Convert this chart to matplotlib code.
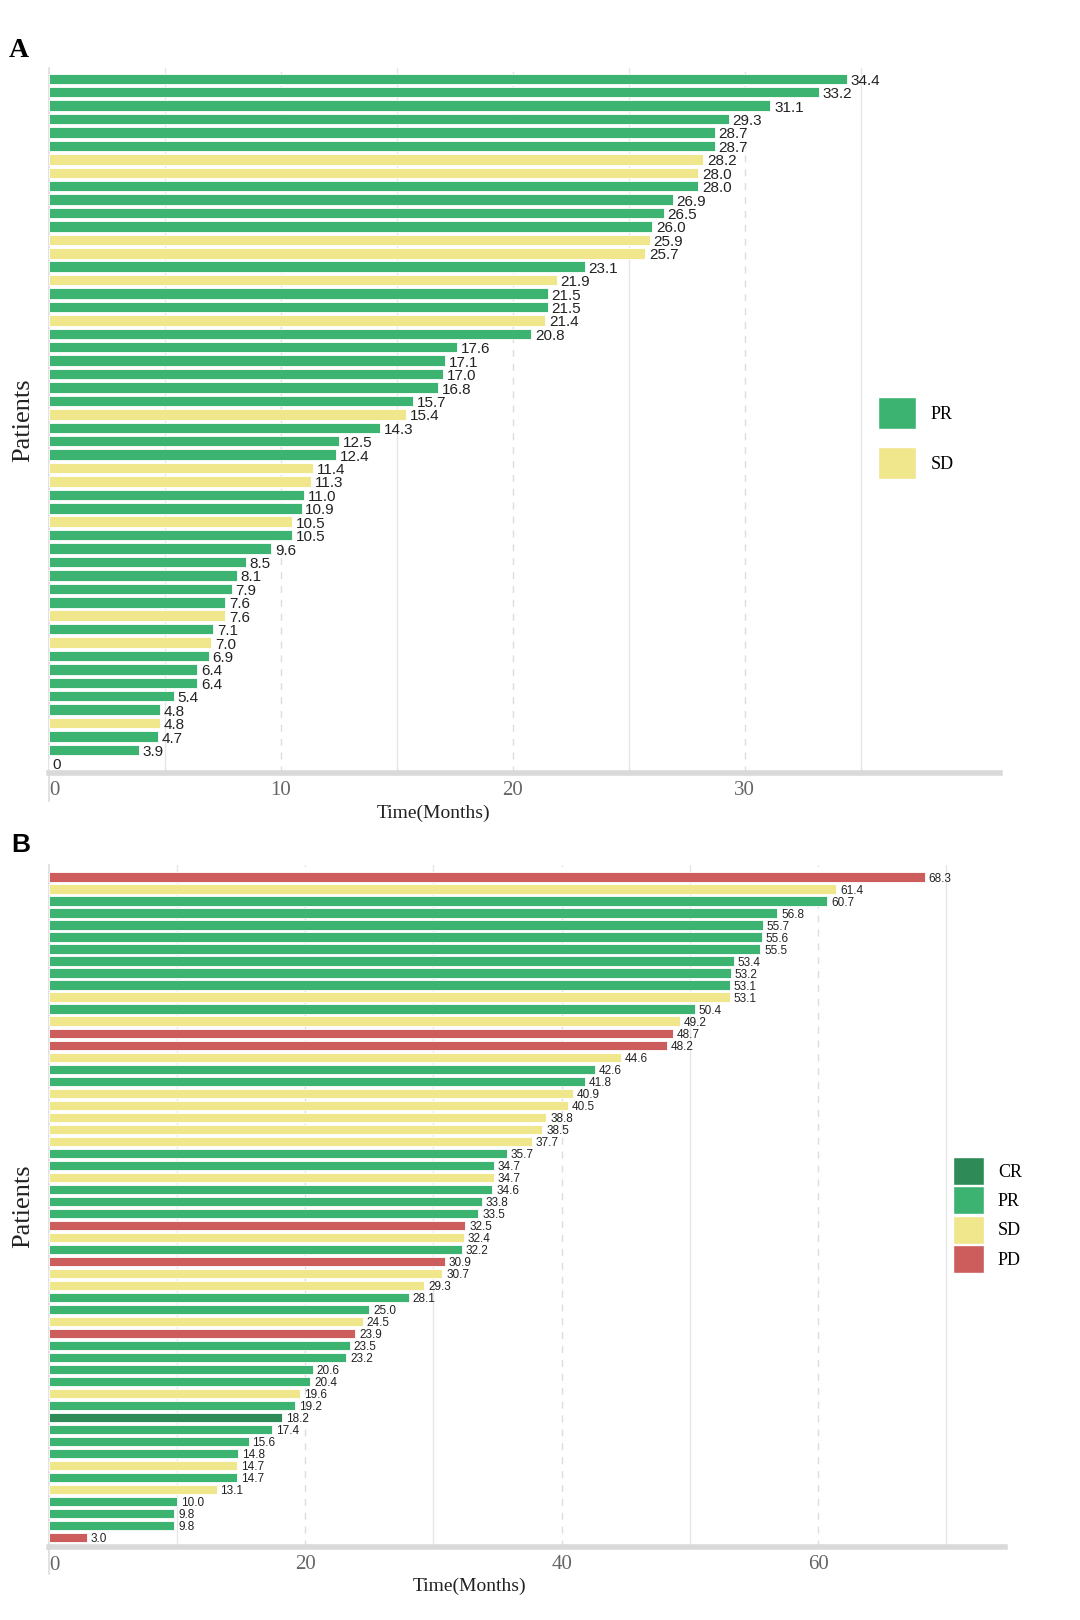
import numpy as np
import matplotlib.pyplot as plt
from matplotlib.patches import Patch

# Panel A: months per patient and best response
a_months = [34.4, 33.2, 31.1, 29.3, 28.7, 28.7, 28.2, 28.0, 28.0, 26.9,
            26.5, 26.0, 25.9, 25.7, 23.1, 21.9, 21.5, 21.5, 21.4, 20.8,
            17.6, 17.1, 17.0, 16.8, 15.7, 15.4, 14.3, 12.5, 12.4, 11.4,
            11.3, 11.0, 10.9, 10.5, 10.5, 9.6, 8.5, 8.1, 7.9, 7.6,
            7.6, 7.1, 7.0, 6.9, 6.4, 6.4, 5.4, 4.8, 4.8, 4.7, 3.9, 0]
a_resp = ["PR", "PR", "PR", "PR", "PR", "PR", "SD", "SD", "PR", "PR",
          "PR", "PR", "SD", "SD", "PR", "SD", "PR", "PR", "SD", "PR",
          "PR", "PR", "PR", "PR", "PR", "SD", "PR", "PR", "PR", "SD",
          "SD", "PR", "PR", "SD", "PR", "PR", "PR", "PR", "PR", "PR",
          "SD", "PR", "SD", "PR", "PR", "PR", "PR", "PR", "SD", "PR", "PR", "PR"]

# Panel B
b_months = [68.3, 61.4, 60.7, 56.8, 55.7, 55.6, 55.5, 53.4, 53.2, 53.1,
            53.1, 50.4, 49.2, 48.7, 48.2, 44.6, 42.6, 41.8, 40.9, 40.5,
            38.8, 38.5, 37.7, 35.7, 34.7, 34.7, 34.6, 33.8, 33.5, 32.5,
            32.4, 32.2, 30.9, 30.7, 29.3, 28.1, 25.0, 24.5, 23.9, 23.5,
            23.2, 20.6, 20.4, 19.6, 19.2, 18.2, 17.4, 15.6, 14.8, 14.7,
            14.7, 13.1, 10.0, 9.8, 9.8, 3.0]
b_resp = ["PD", "SD", "PR", "PR", "PR", "PR", "PR", "PR", "PR", "PR",
          "SD", "PR", "SD", "PD", "PD", "SD", "PR", "PR", "SD", "SD",
          "SD", "SD", "SD", "PR", "PR", "SD", "PR", "PR", "PR", "PD",
          "SD", "PR", "PD", "SD", "SD", "PR", "PR", "SD", "PD", "PR",
          "PR", "PR", "PR", "SD", "PR", "CR", "PR", "PR", "PR", "SD",
          "PR", "SD", "PR", "PR", "PR", "PD"]

colors = {"CR": "#2e8b57", "PR": "#3cb371", "SD": "#f0e68c", "PD": "#cd5c5c"}

serif = ["Liberation Serif", "DejaVu Serif"]
narrow = ["Liberation Sans Narrow", "Liberation Sans", "DejaVu Sans"]

fig = plt.figure(figsize=(10.8, 16.2), dpi=100)


def panel(rect, months, resp, xmax, major, minor, lab_size, ylim, legend_keys,
          leg_loc, handle_w, handle_h, spacing, xlab_xy):
    ax = fig.add_axes(rect)
    y = np.arange(len(months))
    ax.barh(y, months, height=0.78, color=[colors[r] for r in resp],
            edgecolor="white", linewidth=0.6, zorder=3)
    for yi, v in zip(y, months):
        txt = "0" if v == 0 else f"{v:.1f}"
        ax.text(v + xmax * 0.004, yi + 0.15, txt, va="center", ha="left",
                fontsize=lab_size, family=narrow, color="#222222", zorder=4)
    ax.set_xlim(0, xmax)
    ax.set_ylim(*ylim)
    for g in minor:
        ax.axvline(g, color="#e6e6e6", lw=1, zorder=1)
    for g in major:
        ax.axvline(g, color="#dddddd", lw=1, ls=(0, (5, 5)), zorder=1)
    ax.set_xticks(major)
    ax.set_xticklabels([str(t) for t in major], family=serif,
                       fontsize=15, color="#666666")
    ax.tick_params(axis="x", length=0, pad=6)
    # the zero label sits a little right of the axis line
    ax.text(0.012, 0, "0", transform=ax.get_xaxis_transform(), ha="left",
            va="top", family=serif, fontsize=15, color="#666666")
    ax.texts[-1].set_y(-0.012 if len(months) < 53 else -0.013)
    ax.set_yticks([])
    for s in ["top", "right", "left"]:
        ax.spines[s].set_visible(False)
    ax.spines["bottom"].set_color("#d9d9d9")
    ax.spines["bottom"].set_linewidth(4)
    ax.plot([0, 0], [-0.04, 1], transform=ax.transAxes, color="#dddddd",
            lw=1.2, clip_on=False)
    ax.set_xlabel("Time(Months)", family=serif, fontsize=14, color="#222222")
    ax.xaxis.set_label_coords(*xlab_xy)
    ax.set_ylabel("Patients", family=serif, fontsize=19, color="#222222",
                  labelpad=10)
    handles = [Patch(facecolor=colors[k], edgecolor="white", label=k)
               for k in legend_keys]
    ax.legend(handles=handles, loc="center left", bbox_to_anchor=leg_loc,
              frameon=False, prop={"family": serif, "size": 13},
              handlelength=handle_w, handleheight=handle_h,
              labelspacing=spacing, handletextpad=0.8)
    return ax


panel([0.045, 0.523, 0.881, 0.435], a_months, a_resp, 41, [10, 20, 30],
      [5, 15, 25, 35], 11, (51.7, -0.8), ["PR", "SD"], (0.855, 0.475),
      2.1, 2.35, 1.0, (0.405, -0.045))
panel([0.045, 0.045, 0.886, 0.421], b_months, b_resp, 74.6, [20, 40, 60],
      [10, 30, 50, 70], 8.5, (55.8, -1.0), ["CR", "PR", "SD", "PD"],
      (0.928, 0.487), 1.7, 2.0, 0.08, (0.44, -0.045))

fig.text(0.008, 0.965, "A", family=serif, fontsize=20, fontweight="bold")
fig.text(0.010, 0.474, "B", family=["Liberation Sans", "DejaVu Sans"],
         fontsize=19, fontweight="bold")

fig.savefig("out.png", dpi=100, facecolor="white")
